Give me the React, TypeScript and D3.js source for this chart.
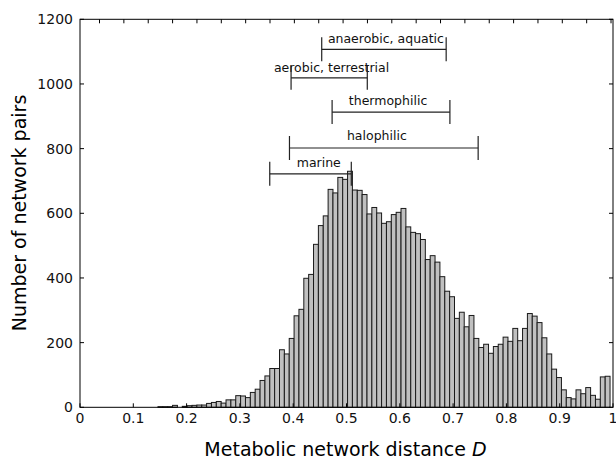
import React from "react";
import * as d3 from "d3";

const binStart = 0.1463;
const binWidth = 0.00912;
const counts = [
  2, 2, 2, 6, 0, 3, 5, 6, 7, 7,
  12, 15, 18, 13, 23, 23, 36, 35, 30, 46,
  56, 83, 97, 120, 120, 178, 165, 213, 283, 303,
  399, 411, 504, 562, 592, 674, 663, 711, 705, 730,
  672, 671, 658, 598, 618, 601, 569, 574, 596, 603,
  615, 558, 541, 537, 519, 457, 469, 449, 404, 359,
  342, 275, 294, 249, 284, 213, 185, 195, 167, 188,
  195, 217, 204, 244, 206, 244, 290, 282, 262, 215,
  165, 118, 92, 54, 30, 26, 54, 42, 61, 37,
  25, 94, 96,
];

const xTicks = [0, 0.1, 0.2, 0.3, 0.4, 0.5, 0.6, 0.7, 0.8, 0.9, 1];
const xTickLabels = ["0", "0.1", "0.2", "0.3", "0.4", "0.5", "0.6", "0.7", "0.8", "0.9", "1"];
const yTicks = [0, 200, 400, 600, 800, 1000, 1200];
const topTicks = [
  0.0366, 0.0823, 0.128, 0.1737, 0.2194, 0.2651, 0.3108, 0.3565, 0.4022, 0.4479,
  0.4936, 0.5393, 0.585, 0.6307, 0.6764, 0.7221, 0.7678, 0.8135, 0.8592, 0.9049,
  0.9506, 0.9963,
];

const groupLabels = ["anaerobic, aquatic", "aerobic, terrestrial", "thermophilic", "halophilic", "marine"];
const groupLo = [0.4535, 0.396, 0.473, 0.393, 0.356];
const groupHi = [0.687, 0.539, 0.694, 0.747, 0.509];
const groupLevel = [1107, 1019, 913, 802, 722];
const groupLabelX = [0.574, 0.472, 0.578, 0.557, 0.448];
const groupLabelY = [1128, 1037, 935, 827, 744];

const W = 616;
const H = 459;
const left = 80;
const right = 613;
const top = 19.3;
const bottom = 407.3;

export default function App() {
  const x = d3.scaleLinear().domain([0, 1]).range([left, right]);
  const y = d3.scaleLinear().domain([0, 1200]).range([bottom, top]);
  const font = "'DejaVu Sans', sans-serif";
  const capH = 12;
  return (
    <svg
      width={W}
      height={H}
      style={{ position: "absolute", left: 0, top: 0, background: "#fff" }}
      fontFamily={font}
    >
      <rect x={0} y={0} width={W} height={H} fill="#fff" />
      {counts.map((c, i) => {
        const x0 = x(binStart + i * binWidth);
        const x1 = x(binStart + (i + 1) * binWidth);
        return (
          <rect
            key={i}
            x={x0}
            y={y(c)}
            width={x1 - x0}
            height={bottom - y(c)}
            fill="#c0c0c0"
            stroke="#1a1a1a"
            strokeWidth={1}
          />
        );
      })}
      <rect x={left} y={top} width={right - left} height={bottom - top} fill="none" stroke="#000" strokeWidth={1} />
      {xTicks.map((t, i) => (
        <g key={"xt" + i}>
          <line x1={x(t)} x2={x(t)} y1={bottom} y2={bottom - 4} stroke="#000" />
          <text x={x(t)} y={bottom + 16} fontSize={14} textAnchor="middle" fill="#111">
            {xTickLabels[i]}
          </text>
        </g>
      ))}
      {topTicks.map((t, i) => (
        <line key={"tt" + i} x1={x(t)} x2={x(t)} y1={top} y2={top + 4} stroke="#000" />
      ))}
      {yTicks.map((t, i) => (
        <g key={"yt" + i}>
          <line x1={left} x2={left + 4} y1={y(t)} y2={y(t)} stroke="#000" />
          <line x1={right} x2={right - 4} y1={y(t)} y2={y(t)} stroke="#000" />
          <text x={left - 7} y={y(t) + 5} fontSize={14} textAnchor="end" fill="#111">
            {t}
          </text>
        </g>
      ))}
      {groupLabels.map((g, i) => {
        const yy = y(groupLevel[i]);
        return (
          <g key={"g" + i}>
            <text x={x(groupLabelX[i])} y={y(groupLabelY[i])} fontSize={12.5} textAnchor="middle" fill="#111">
              {g}
            </text>
            <line x1={x(groupLo[i])} x2={x(groupHi[i])} y1={yy} y2={yy} stroke="#222" strokeWidth={1.2} />
            <line x1={x(groupLo[i])} x2={x(groupLo[i])} y1={yy - capH} y2={yy + capH} stroke="#222" strokeWidth={1.2} />
            <line x1={x(groupHi[i])} x2={x(groupHi[i])} y1={yy - capH} y2={yy + capH} stroke="#222" strokeWidth={1.2} />
          </g>
        );
      })}
      <text x={(left + right) / 2 - 1} y={456} fontSize={19} textAnchor="middle" fill="#000">
        Metabolic network distance <tspan fontStyle="italic">D</tspan>
      </text>
      <text transform={`translate(26, 213) rotate(-90)`} fontSize={19} textAnchor="middle" fill="#000">
        Number of network pairs
      </text>
    </svg>
  );
}
